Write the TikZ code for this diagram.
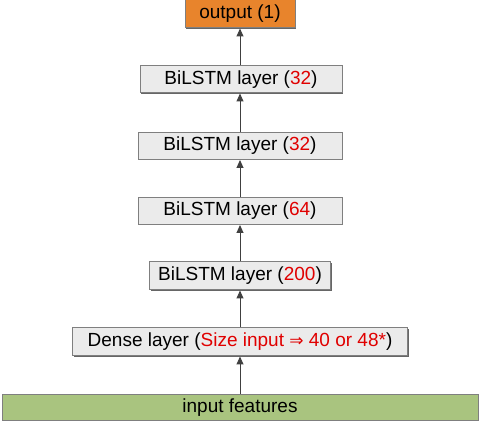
\documentclass[tikz,border=0pt]{standalone}
\usepackage{fontspec}
\setmainfont{Liberation Sans}
\newfontfamily\dejavu{DejaVu Sans}
\usetikzlibrary{arrows.meta,shadows}
\definecolor{boxfill}{HTML}{EBEBEB}
\definecolor{boxline}{HTML}{7F7F7F}
\definecolor{outfill}{HTML}{E8842C}
\definecolor{infill}{HTML}{A9C47F}
\definecolor{redtxt}{HTML}{E00000}
\definecolor{arr}{HTML}{404040}
\tikzset{
  layerbox/.style={draw=boxline, line width=1pt, fill=boxfill, inner sep=0pt,
    font=\fontsize{19}{22}\selectfont,
    drop shadow={shadow xshift=1pt, shadow yshift=-1pt, fill=boxline!80!black, opacity=1}},
  conn/.style={draw=arr, line width=1pt, -{Triangle[length=8pt,width=7pt]}}
}
\begin{document}
\begin{tikzpicture}[x=1pt,y=-1pt]
\useasboundingbox (0,0) rectangle (480,422);
\node[layerbox, fill=outfill, minimum width=110pt, minimum height=28pt] (out) at (240,14) {output (1)};
\node[layerbox, minimum width=202pt, minimum height=27pt] (b1) at (241,79.5) {BiLSTM layer (\textcolor{redtxt}{32})};
\node[layerbox, minimum width=204pt, minimum height=27pt] (b2) at (240,146) {BiLSTM layer (\textcolor{redtxt}{32})};
\node[layerbox, minimum width=204pt, minimum height=27pt] (b3) at (240,211) {BiLSTM layer (\textcolor{redtxt}{64})};
\node[layerbox, minimum width=181pt, minimum height=28pt] (b4) at (240,276) {BiLSTM layer (\textcolor{redtxt}{200})};
\node[layerbox, minimum width=335pt, minimum height=28pt] (dense) at (240,342) {Dense layer (\textcolor{redtxt}{Size input {\dejavu\fontsize{17}{20}\selectfont ⇒} 40 or 48*})};
\node[layerbox, fill=infill, minimum width=476pt, minimum height=26pt] (inp) at (240,407.5) {input features};
\draw[conn] (inp.north -| dense) -- (dense.south);
\draw[conn] (dense.north) -- (b4.south);
\draw[conn] (b4.north) -- (b3.south);
\draw[conn] (b3.north) -- (b2.south);
\draw[conn] (b2.north) -- (b2.north |- b1.south);
\draw[conn] (b2.north |- b1.north) -- (b2.north |- out.south);
\end{tikzpicture}
\end{document}
